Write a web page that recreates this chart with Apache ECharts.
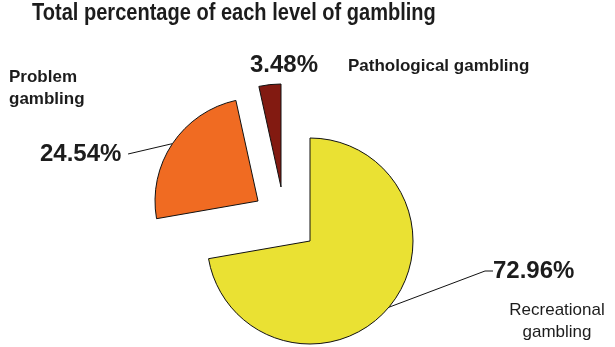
<!DOCTYPE html>
<html>
<head>
<meta charset="utf-8">
<script src="https://cdn.jsdelivr.net/npm/echarts@6/dist/echarts.min.js"></script>
<style>
html,body{margin:0;padding:0;background:#fff;}
#chart{width:615px;height:347px;}
</style>
</head>
<body>
<div id="chart"></div>
<script>
// ---- data ----
const chartTitle = 'Total percentage of each level of gambling';
const categories = ['Recreational gambling', 'Problem gambling', 'Pathological gambling'];
const categoryLabels = ['Recreational\ngambling', 'Problem\ngambling', 'Pathological gambling'];
const values = [72.96, 24.54, 3.48];
const percentLabels = ['72.96%', '24.54%', '3.48%'];

// ---- styling / layout ----
const colors = ['#EAE133', '#F06B22', '#821A11'];
const centers = [[310, 241], [258, 201], [281, 187]];
const radius = 103;
const labelPos = [
  {x: 493, y: 271, align: 'left', gapRight: 0},
  {x: 40, y: 154, align: 'left', gapRight: 9},
  {x: 250, y: 65, align: 'left', gapRight: 0}
];
const namePos = [
  {x: 557, y: 321, align: 'center', weight: 'normal'},
  {x: 9, y: 88, align: 'left', weight: 'bold'},
  {x: 348, y: 66, align: 'left', weight: 'bold'}
];
const textColor = '#1c1c1c';

const chart = echarts.init(document.getElementById('chart'), null, {renderer: 'canvas'});

const series = categories.map((cat, i) => ({
  type: 'pie',
  center: centers[i],
  radius: radius,
  startAngle: 90,
  clockwise: true,
  silent: true,
  animation: false,
  z: 2,
  labelLayout: function (params) {
    if (params.dataIndex !== i) return {};
    return {x: labelPos[i].x, y: labelPos[i].y, align: labelPos[i].align, verticalAlign: 'middle'};
  },
  data: values.map((v, j) => ({
    value: v,
    name: categories[j],
    itemStyle: j === i
      ? {color: colors[j], borderColor: '#111', borderWidth: 1}
      : {color: 'rgba(0,0,0,0)', borderWidth: 0},
    label: {
      show: j === i,
      formatter: '{p|' + percentLabels[j] + '}' + (labelPos[j].gapRight ? '{g| }' : ''),
      fontFamily: 'Liberation Sans, Arial, sans-serif',
      fontWeight: 'bold',
      fontSize: 24,
      color: textColor,
      rich: {
        p: {fontFamily: 'Liberation Sans, Arial, sans-serif', fontWeight: 'bold', fontSize: 24, color: textColor},
        g: {width: labelPos[j].gapRight, fontSize: 24}
      }
    },
    labelLine: {
      show: j === i && j !== 2,
      length: 10,
      length2: j === 0 ? 8 : 0,
      lineStyle: {color: '#111', width: 1}
    }
  }))
}));

const graphics = categories.map((cat, i) => ({
  type: 'text',
  style: {
    text: categoryLabels[i],
    x: namePos[i].x,
    y: namePos[i].y,
    align: namePos[i].align,
    verticalAlign: 'middle',
    font: namePos[i].weight + ' 17px "Liberation Sans", Arial, sans-serif',
    lineHeight: 22,
    fill: textColor
  }
}));

graphics.push({
  type: 'text',
  x: 32,
  y: 1,
  scaleX: 0.835,
  style: {
    text: chartTitle,
    x: 0,
    y: 0,
    align: 'left',
    verticalAlign: 'top',
    font: 'bold 24px "Liberation Sans", Arial, sans-serif',
    fill: textColor
  }
});

chart.setOption({
  backgroundColor: '#ffffff',
  animation: false,
  graphic: graphics,
  series: series
});
</script>
</body>
</html>
